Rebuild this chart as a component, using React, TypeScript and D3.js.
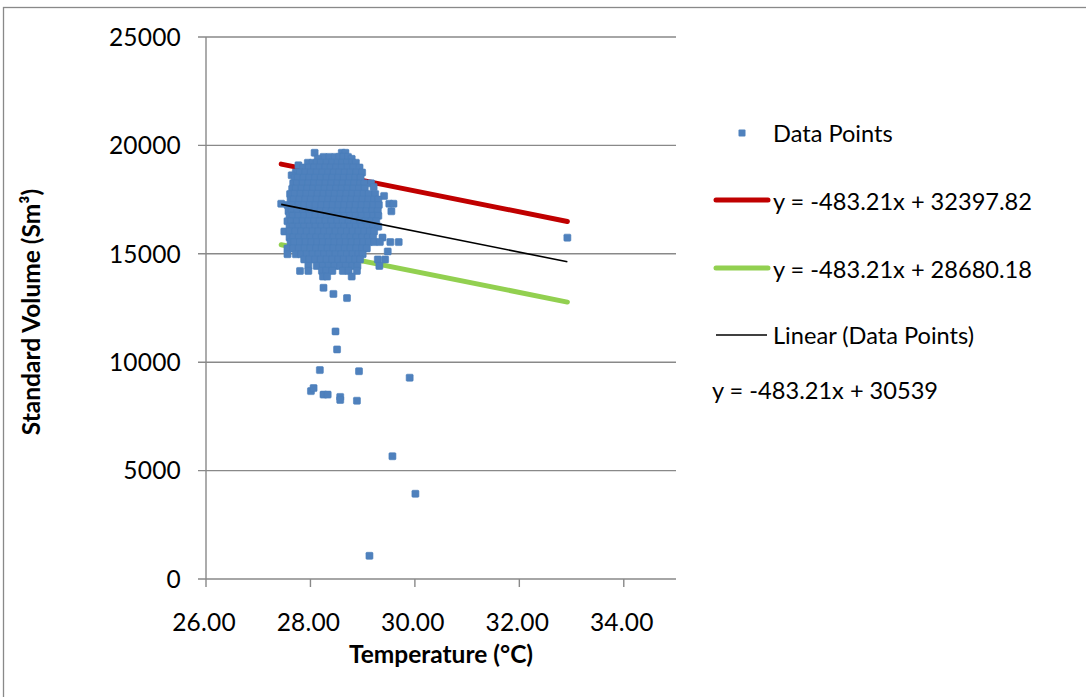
import React from "react";
import * as d3 from "d3";

// Measurements: [standard volume, temperatures recorded at that volume band]
const cloudRows: [number, number[]][] = [
  [19660, [28.08, 28.6, 28.67]],
  [19470, [28.25, 28.36, 28.47, 28.55, 28.63, 28.72]],
  [19380, [28.14, 28.79]],
  [19200, [27.95, 28.04, 28.12, 28.2, 28.31, 28.42, 28.52, 28.61, 28.7, 28.8, 28.87]],
  [19080, [27.77]],
  [18980, [27.86, 27.97, 28.07, 28.18, 28.28, 28.39, 28.49, 28.6, 28.71, 28.82, 28.94]],
  [18750, [27.72, 27.8, 27.9, 28.01, 28.12, 28.23, 28.34, 28.45, 28.55, 28.66, 28.77, 28.88, 28.99]],
  [18620, [27.64]],
  [18500, [27.7, 27.76, 27.87, 27.98, 28.09, 28.2, 28.31, 28.42, 28.53, 28.64, 28.75, 28.86, 28.96]],
  [18250, [27.67, 27.74, 27.85, 27.96, 28.07, 28.18, 28.29, 28.4, 28.51, 28.62, 28.73, 28.84, 28.95, 29.03, 29.16]],
  [18080, [29.21]],
  [18000, [27.65, 27.72, 27.83, 27.94, 28.05, 28.16, 28.27, 28.38, 28.49, 28.6, 28.71, 28.82, 28.93, 29.04]],
  [17760, [27.61, 27.7, 27.81, 27.92, 28.03, 28.14, 28.25, 28.36, 28.47, 28.58, 28.69, 28.8, 28.91, 29.02, 29.12, 29.24]],
  [17670, [29.41]],
  [17500, [27.62, 27.68, 27.79, 27.9, 28.01, 28.12, 28.23, 28.34, 28.45, 28.56, 28.67, 28.78, 28.89, 29.0, 29.11, 29.22, 29.3]],
  [17310, [27.44, 29.51, 29.59]],
  [17250, [27.56, 27.66, 27.77, 27.88, 27.99, 28.1, 28.21, 28.32, 28.43, 28.54, 28.65, 28.76, 28.87, 28.98, 29.09, 29.2, 29.31]],
  [16960, [27.58, 27.64, 27.75, 27.86, 27.97, 28.08, 28.19, 28.3, 28.41, 28.52, 28.63, 28.74, 28.85, 28.96, 29.07, 29.18, 29.29, 29.55]],
  [16750, [27.6, 27.66, 27.77, 27.88, 27.99, 28.1, 28.21, 28.32, 28.43, 28.54, 28.65, 28.76, 28.87, 28.98, 29.09, 29.2, 29.3]],
  [16500, [27.56, 27.63, 27.74, 27.85, 27.96, 28.07, 28.18, 28.29, 28.4, 28.51, 28.62, 28.73, 28.84, 28.95, 29.06, 29.17, 29.26]],
  [16250, [27.6, 27.66, 27.77, 27.88, 27.99, 28.1, 28.21, 28.32, 28.43, 28.54, 28.65, 28.76, 28.87, 28.98, 29.09, 29.2, 29.3]],
  [16030, [27.5, 27.6, 27.71, 27.82, 27.93, 28.04, 28.15, 28.26, 28.37, 28.48, 28.59, 28.7, 28.81, 28.92, 29.03, 29.14, 29.22]],
  [15750, [27.6, 27.67, 27.78, 27.89, 28.0, 28.11, 28.22, 28.33, 28.44, 28.55, 28.66, 28.77, 28.88, 28.99, 29.1, 29.2, 29.38]],
  [15540, [27.62, 27.69, 27.8, 27.91, 28.02, 28.13, 28.24, 28.35, 28.46, 28.57, 28.68, 28.79, 28.9, 29.01, 29.12, 29.22, 29.33, 29.53, 29.69]],
  [15250, [27.56, 27.67, 27.78, 27.89, 28.0, 28.11, 28.22, 28.33, 28.44, 28.55, 28.66, 28.77, 28.88, 28.99, 29.08]],
  [15110, [29.48]],
  [14980, [27.56, 27.72, 27.82, 27.93, 28.04, 28.15, 28.26, 28.37, 28.48, 28.59, 28.7, 28.81, 28.92, 29.0]],
  [14740, [27.88, 27.98, 28.09, 28.2, 28.31, 28.42, 28.53, 28.64, 28.75, 28.86, 28.95, 29.29, 29.43]],
  [14440, [27.96, 28.12, 28.24, 28.35, 28.46, 28.57, 28.68, 28.8, 28.9, 29.32]],
  [14210, [27.8, 27.96, 28.22, 28.3, 28.42, 28.62, 28.73, 28.89]],
  [13950, [28.24, 28.32, 28.79]],
];

// Isolated readings away from the main cluster: [temperature, volume]
const outliers: [number, number][] = [
  [28.25, 13433], [28.44, 13150], [28.7, 12958], [28.48, 11420], [28.51, 10590],
  [28.18, 9636], [28.93, 9585], [29.9, 9285], [28.01, 8666], [28.06, 8805],
  [28.25, 8505], [28.33, 8505], [28.57, 8399], [28.57, 8260], [28.89, 8223],
  [29.57, 5662], [30.01, 3932], [29.13, 1070], [32.92, 15745],
];

const slope = -483.21;
const upperIntercept = 32397.82;
const lowerIntercept = 28680.18;
const fitIntercept = 30539;
const lineRange: [number, number] = [27.44, 32.92];

const xTicks = [26, 28, 30, 32, 34];
const yTicks = [0, 5000, 10000, 15000, 20000, 25000];

const legendLabels = [
  "Data Points",
  "y = -483.21x + 32397.82",
  "y = -483.21x + 28680.18",
  "Linear (Data Points)",
];
const fitEquation = "y = -483.21x + 30539";

const W = 1086;
const H = 697;
const plot = { left: 206, right: 676, top: 37, bottom: 579 };
const FONT = "Lato, 'Liberation Sans', sans-serif";
const GRID = "#898989";
const BLUE = "#4f81bd";
const RED = "#c00000";
const GREEN = "#92d050";
const TICK_FS = 24.5;
const LEG_FS = 23.6;
const TITLE_FS = 24.5;

export default function App() {
  const x = d3.scaleLinear().domain([26, 35]).range([plot.left, plot.right]);
  const y = d3.scaleLinear().domain([0, 25000]).range([plot.bottom, plot.top]);

  const points: [number, number][] = [];
  cloudRows.forEach(([v, ts]) => ts.forEach((t) => points.push([t, v])));
  outliers.forEach((p) => points.push(p));

  const pathFor = (b: number) =>
    d3.line<number>().x((t) => x(t)).y((t) => y(slope * t + b))(lineRange) as string;

  const ms = 7;
  const lx = 773;

  return (
    <div style={{ position: "absolute", left: 0, top: 0 }}>
      <svg width={W} height={H} style={{ display: "block", background: "#fff" }}>
        <rect x={3.5} y={7.5} width={W + 20} height={H + 20} fill="#fff" stroke={GRID} strokeWidth={1.3} />

        {/* horizontal gridlines */}
        {yTicks.map((v) => (
          <line key={"g" + v} x1={plot.left - 8} x2={plot.right} y1={y(v)} y2={y(v)} stroke={GRID} strokeWidth={1.4} />
        ))}
        {/* y axis */}
        <line x1={plot.left} x2={plot.left} y1={plot.top} y2={plot.bottom} stroke={GRID} strokeWidth={1.4} />
        {/* x ticks */}
        {xTicks.map((t) => (
          <line key={"xt" + t} x1={x(t)} x2={x(t)} y1={plot.bottom} y2={plot.bottom + 8} stroke={GRID} strokeWidth={1.4} />
        ))}

        {/* tick labels */}
        {yTicks.map((v) => (
          <text key={"yl" + v} x={181} y={y(v)} dy="0.36em" textAnchor="end" fontFamily={FONT} fontSize={TICK_FS} letterSpacing={0.2} fill="#000">
            {v}
          </text>
        ))}
        {xTicks.map((t) => (
          <text key={"xl" + t} x={x(t) - 2} y={622} dy="0.36em" textAnchor="middle" fontFamily={FONT} fontSize={TICK_FS} letterSpacing={0.2} fill="#000">
            {t.toFixed(2)}
          </text>
        ))}

        {/* axis titles */}
        <text x={(plot.left + plot.right) / 2} y={654} dy="0.36em" textAnchor="middle" fontFamily={FONT} fontSize={TITLE_FS} fontWeight="bold">
          Temperature (°C)
        </text>
        <text
          transform={`translate(31,${(plot.top + plot.bottom) / 2 + 4}) rotate(-90)`}
          dy="0.36em"
          textAnchor="middle"
          fontFamily={FONT}
          fontSize={TITLE_FS}
          fontWeight="bold"
        >
          Standard Volume (Sm³)
        </text>

        {/* bound lines */}
        <path d={pathFor(upperIntercept)} stroke={RED} strokeWidth={5} strokeLinecap="round" fill="none" />
        <path d={pathFor(lowerIntercept)} stroke={GREEN} strokeWidth={5} strokeLinecap="round" fill="none" />

        {/* data points */}
        {points.map(([t, v], i) => (
          <rect
            key={i}
            x={x(t) - ms / 2}
            y={y(v) - ms / 2}
            width={ms}
            height={ms}
            rx={1}
            fill={BLUE}
            stroke="#4a7ebb"
            strokeWidth={0.6}
          />
        ))}

        {/* linear fit */}
        <path d={pathFor(fitIntercept)} stroke="#000" strokeWidth={1.6} fill="none" />

        {/* legend */}
        <rect x={742 - 3.5} y={133 - 3.5} width={7} height={7} rx={1} fill={BLUE} />
        <text x={lx} y={141.5} fontFamily={FONT} fontSize={LEG_FS}>{legendLabels[0]}</text>
        <line x1={716} x2={768} y1={200} y2={200} stroke={RED} strokeWidth={5} strokeLinecap="round" />
        <text x={lx} y={209.5} fontFamily={FONT} fontSize={LEG_FS}>{legendLabels[1]}</text>
        <line x1={716} x2={768} y1={268} y2={268} stroke={GREEN} strokeWidth={5} strokeLinecap="round" />
        <text x={lx} y={277.5} fontFamily={FONT} fontSize={LEG_FS}>{legendLabels[2]}</text>
        <line x1={716} x2={767} y1={335} y2={335} stroke="#000" strokeWidth={1.6} />
        <text x={lx} y={344} fontFamily={FONT} fontSize={LEG_FS}>{legendLabels[3]}</text>
        <text x={712} y={399} fontFamily={FONT} fontSize={LEG_FS}>{fitEquation}</text>
      </svg>
    </div>
  );
}
